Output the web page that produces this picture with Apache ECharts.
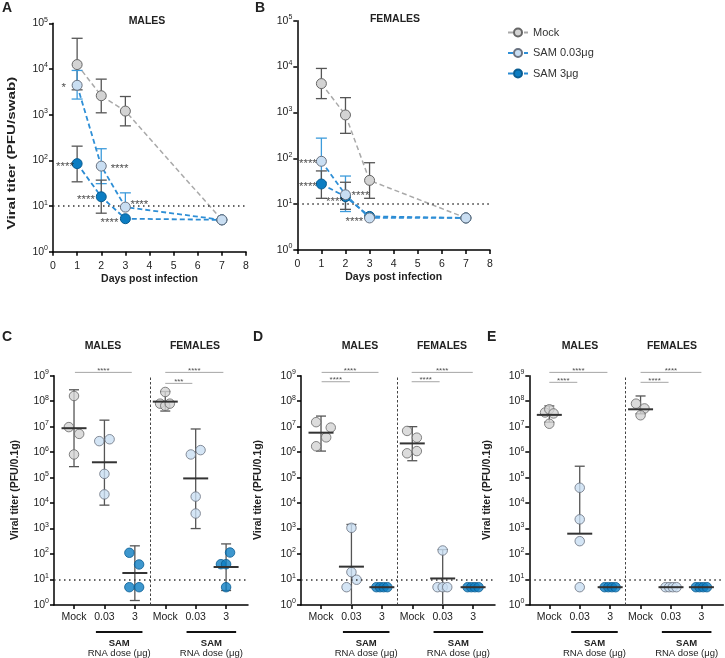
<!DOCTYPE html>
<html><head><meta charset="utf-8">
<script src="https://cdn.jsdelivr.net/npm/echarts@6/dist/echarts.min.js"></script>
<style>html,body{margin:0;padding:0;background:#fff}#c{width:725px;height:658px}</style>
</head><body><div id="c"></div>
<script>
// ================= DATA =================
// Panels A/B: oral swab titers (PFU/swab) by day post infection
const daysPI = [1, 2, 3, 7];
const seriesNames = ['Mock', 'SAM 0.03\u03bcg', 'SAM 3\u03bcg'];

const A_mock = [12500, 2600, 1200, 5];
const A_mockHi = [47000, 6000, 2500, null];
const A_mockLo = [3500, 1100, 570, null];
const A_low = [4400, 75, 9.5, 5];
const A_lowHi = [9300, 180, 19.5, null];
const A_lowLo = [2200, 31, null, null];
const A_high = [85, 16, 5.3, 5];
const A_highHi = [205, 37, null, null];
const A_highLo = [34, 7, null, null];

const B_mock = [4250, 880, 33, 5];
const B_mockHi = [9100, 2100, 80, null];
const B_mockLo = [2000, 350, 13.4, null];
const B_low = [86, 16, 5, 5];
const B_lowHi = [275, 41, null, null];
const B_lowLo = [30, 6.9, null, null];
const B_high = [27.5, 14.5, 5.4, 5];
const B_highHi = [53, 30, null, null];
const B_highLo = [13.4, 7.7, null, null];

// significance text annotations for A/B: [day, titer, text]
const A_stars = [[0.44, 4400, '*'], [0.5, 85, '****'], [2.76, 75, '****'], [1.37, 16, '****'], [3.58, 12.3, '****'], [2.34, 5, '****']];
const B_stars = [[0.44, 86, '****'], [0.44, 27.5, '****'], [1.56, 13, '****'], [2.62, 17.6, '****'], [2.37, 4.8, '****']];

// Panels C/D/E: tissue titers (PFU/0.1g); groups: M Mock, M 0.03, M 3, F Mock, F 0.03, F 3
const groupLabels = ['Mock', '0.03', '3', 'Mock', '0.03', '3'];

const C_M_mock = [1.6e8, 9.6e6, 5.2e6, 8.1e5];
const C_M_low = [2.7e6, 3.2e6, 1.4e5, 2.2e4];
const C_M_high = [112, 39, 5, 5];
const C_F_mock = [2.3e8, 8e7, 6.6e7, 8e7];
const C_F_low = [8.1e5, 1.2e6, 1.8e4, 3.9e3];
const C_F_high = [115, 40, 40, 5];
const C_mean = [8.7e6, 4e5, 18, 9.6e7, 9.3e4, 31];
const C_sdHi = [2.8e8, 1.8e7, 210, 2.4e8, 8.1e6, 250];
const C_sdLo = [2.7e5, 8.3e3, 1.5, 4.1e7, 1e3, 3.7];

const D_M_mock = [1.5e7, 9.2e6, 3.8e6, 1.7e6];
const D_M_low = [1070, 19.5, 9.8, 5];
const D_M_high = [5, 5, 5, 5];
const D_F_mock = [6.8e6, 3.7e6, 9e5, 1.1e6];
const D_F_low = [138, 5, 5, 5];
const D_F_high = [5, 5, 5, 5];
const D_mean = [5.8e6, 32, 5, 2.2e6, 11, 5];
const D_sdHi = [2.6e7, 1450, null, 1e7, 150, null];
const D_sdLo = [1.1e6, 0.3, null, 4.6e5, 0.3, null];

const E_M_mock = [3.6e7, 4.8e7, 3.3e7, 1.3e7];
const E_M_low = [4e4, 2.3e3, 320, 5];
const E_M_high = [5, 5, 5, 5];
const E_F_mock = [8e7, 5.2e7, 2.8e7];
const E_F_low = [5, 5, 5, 5];
const E_F_high = [5, 5, 5, 5];
const E_mean = [2.9e7, 630, 5, 4.8e7, 5, 5];
const E_sdHi = [6.5e7, 2.8e5, null, 1.6e8, null, null];
const E_sdLo = [1.5e7, null, null, 3.2e7, null, null];

// horizontal scatter offsets (category units) for overlapping dots
const C_jit = [[0, -0.17, 0.17, 0], [-0.17, 0.17, 0, 0], [-0.18, 0.14, -0.18, 0.14], [0, -0.17, 0, 0.15], [-0.16, 0.16, 0, 0], [0.13, -0.17, 0, 0]];
const D_jit = [[-0.16, 0.32, 0.17, -0.16], [0, 0, 0.17, -0.16], [-0.18, -0.06, 0.06, 0.18], [-0.17, 0.15, -0.17, 0.15], [0, -0.17, 0, 0.15], [-0.18, -0.06, 0.06, 0.18]];
const E_jit = [[-0.14, 0, 0.14, 0], [0, 0, 0, 0], [-0.18, -0.06, 0.06, 0.18], [-0.15, 0.13, 0], [-0.18, -0.06, 0.06, 0.18], [-0.18, -0.06, 0.06, 0.18]];

// significance bars: [from group, to group, titer level, text]
const C_sig = [[1.03, 2.9, 1.35e9, '****'], [4.0, 5.91, 1.35e9, '****'], [4.0, 4.89, 5e8, '***']];
const D_sig = [[1.02, 2.89, 1.35e9, '****'], [1.02, 1.95, 5.8e8, '****'], [3.98, 5.99, 1.35e9, '****'], [3.98, 4.9, 5.8e8, '****']];
const E_sig = [[1.0, 2.91, 1.35e9, '****'], [1.0, 1.92, 5.5e8, '****'], [4.0, 6.0, 1.35e9, '****'], [4.0, 4.92, 5.5e8, '****']];

const detectionLimit = 10;

// ================= STYLE =================
const FONT = '"Liberation Sans", Arial, Helvetica, sans-serif';
const FILL = ['#d3d3d3', '#c9def2', '#0c7dc2'];
const EDGE = ['#666666', '#6a7280', '#0a5d92'];
const LINEC = ['#a9a9a9', '#2f8fd6', '#2b8bd3'];
const BARC_AB = ['#555555', '#3d9bdb', '#555555'];
const TXT = '#222';

const chart = echarts.init(document.getElementById('c'), null, {renderer: 'canvas'});

const grids = [
  {left: 53, top: 23.3, width: 193, height: 228.5},
  {left: 297.3, top: 20.7, width: 192.7, height: 229.3},
  {left: 54, top: 375.7, width: 194, height: 229.3},
  {left: 301, top: 375.7, width: 194, height: 229.3},
  {left: 529.3, top: 375.7, width: 194, height: 229.3}
];

const axisLineStyle = {lineStyle: {color: '#000', width: 1.5}};
const tickStyle = {show: true, inside: false, length: 4, lineStyle: {color: '#000', width: 1.5}};

function yAxisLog(gi, maxV, split) {
  return {
    gridIndex: gi, type: 'log', logBase: 10, min: 1, max: maxV, splitNumber: split,
    axisLine: Object.assign({show: true}, axisLineStyle), axisTick: tickStyle,
    splitLine: {show: false}, minorTick: {show: false},
    axisLabel: {
      margin: 5, color: TXT, fontFamily: FONT, fontSize: 10.5,
      formatter: v => '{b|10}{s|' + Math.round(Math.log10(v)) + '}',
      rich: {b: {fontSize: 10.5, fontFamily: FONT, color: TXT}, s: {fontSize: 7, fontFamily: FONT, color: TXT, padding: [0, 0, 7, 0]}}
    }
  };
}
function xAxisDays(gi) {
  return {
    gridIndex: gi, type: 'value', min: 0, max: 8, interval: 1,
    axisLine: Object.assign({show: true, onZero: false}, axisLineStyle), axisTick: tickStyle, splitLine: {show: false},
    axisLabel: {color: TXT, fontFamily: FONT, fontSize: 10.5, margin: 9},
    name: 'Days post infection', nameLocation: 'middle', nameGap: 22,
    nameTextStyle: {fontFamily: FONT, fontSize: 10.5, fontWeight: 'bold', color: TXT}
  };
}
function xAxisGroups(gi) {
  const cv = [1, 2, 3, 4, 5, 6];
  return {
    gridIndex: gi, type: 'value', min: 0.342, max: 6.72,
    axisLine: Object.assign({show: true, onZero: false}, axisLineStyle),
    axisTick: Object.assign({customValues: cv}, tickStyle), splitLine: {show: false},
    axisLabel: {customValues: cv, formatter: v => groupLabels[Math.round(v) - 1], color: TXT, fontFamily: FONT, fontSize: 10.5, margin: 7}
  };
}

const series = [];

function errorBarSeries(gi, xs, mids, his, los, colors, capW, lw, z) {
  const idx = xs.map((x, i) => i).filter(i => his[i] != null);
  return {
    type: 'custom', xAxisIndex: gi, yAxisIndex: gi, z: z, silent: true, animation: false,
    data: idx.map(i => [xs[i], mids[i]]),
    renderItem(params, api) {
      const i = idx[params.dataIndex];
      const cs = params.coordSys, bottom = cs.y + cs.height;
      const x = xs[i];
      const pHi = api.coord([x, his[i]]);
      const hasLo = los[i] != null;
      const pLo = api.coord([x, hasLo ? los[i] : mids[i]]);
      let cap = hasLo;
      if (!(pLo[1] <= bottom)) { pLo[1] = bottom; cap = false; }
      const col = Array.isArray(colors) ? colors[i] : colors;
      const st = {stroke: col, lineWidth: lw};
      const ch = [
        {type: 'line', shape: {x1: pHi[0], y1: pHi[1], x2: pLo[0], y2: pLo[1]}, style: st},
        {type: 'line', shape: {x1: pHi[0] - capW / 2, y1: pHi[1], x2: pHi[0] + capW / 2, y2: pHi[1]}, style: st}
      ];
      if (cap) ch.push({type: 'line', shape: {x1: pLo[0] - capW / 2, y1: pLo[1], x2: pLo[0] + capW / 2, y2: pLo[1]}, style: st});
      return {type: 'group', children: ch};
    }
  };
}

function meanSeries(gi, means) {
  return {
    type: 'custom', xAxisIndex: gi, yAxisIndex: gi, z: 6, silent: true, animation: false,
    data: means.map((m, i) => [i + 1, m]),
    renderItem(params, api) {
      const p = api.coord([api.value(0), api.value(1)]);
      return {type: 'line', shape: {x1: p[0] - 12.5, y1: p[1], x2: p[0] + 12.5, y2: p[1]}, style: {stroke: '#333', lineWidth: 2}};
    }
  };
}

function starSeries(gi, stars, fontSize, pos, offset) {
  return {
    type: 'scatter', xAxisIndex: gi, yAxisIndex: gi, z: 7, silent: true, animation: false, clip: false,
    symbolSize: 1, itemStyle: {color: 'rgba(0,0,0,0)'},
    data: stars.map(s => ({value: [s[0], s[1]], label: {formatter: s[2]}})),
    label: {show: true, position: pos, distance: 0, offset: offset, color: TXT, fontFamily: FONT, fontSize: fontSize}
  };
}

// ---- Panels A & B ----
function timePanel(gi, vals, his, los, stars) {
  for (let k = 0; k < 3; k++) {
    series.push(errorBarSeries(gi, daysPI, vals[k], his[k], los[k], BARC_AB[k], 11, 1.3, 2));
  }
  const order = [0, 2, 1];
  order.forEach(k => {
    const s = {
      type: 'line', name: seriesNames[k], xAxisIndex: gi, yAxisIndex: gi, z: 4 + (k === 1 ? 1 : 0), animation: false,
      data: daysPI.map((d, i) => [d, vals[k][i]]),
      symbol: 'circle', symbolSize: 10, showAllSymbol: true,
      itemStyle: {color: FILL[k], borderColor: EDGE[k], borderWidth: 1},
      lineStyle: {color: LINEC[k], width: k === 0 ? 1.5 : 1.8, type: [5, 3]},
      emphasis: {disabled: true}
    };
    if (k === 0) {
      s.markLine = {silent: true, symbol: ['none', 'none'], label: {show: false}, animation: false,
        lineStyle: {color: '#333', width: 1.5, type: [1.5, 3.5]}, data: [{yAxis: detectionLimit}]};
    }
    series.push(s);
  });
  series.push(starSeries(gi, stars, 11.5, 'inside', [0, 3]));
}
timePanel(0, [A_mock, A_low, A_high], [A_mockHi, A_lowHi, A_highHi], [A_mockLo, A_lowLo, A_highLo], A_stars);
timePanel(1, [B_mock, B_low, B_high], [B_mockHi, B_lowHi, B_highHi], [B_mockLo, B_lowLo, B_highLo], B_stars);

// ---- Panels C, D, E ----
function groupPanel(gi, groups, jit, means, his, los, sig) {
  series.push(errorBarSeries(gi, [1, 2, 3, 4, 5, 6], means, his, los, '#555', 10, 1.3, 2));
  groups.forEach((vals, g) => {
    const k = g % 3;
    const s = {
      type: 'scatter', xAxisIndex: gi, yAxisIndex: gi, z: 4, animation: false, silent: true,
      symbol: 'circle', symbolSize: 9.5,
      itemStyle: {color: FILL[k], borderColor: EDGE[k], borderWidth: 1},
      data: vals.map((v, j) => [g + 1 + jit[g][j], v])
    };
    if (g === 0) {
      s.markLine = {silent: true, symbol: ['none', 'none'], label: {show: false}, animation: false,
        data: [
          {yAxis: detectionLimit, lineStyle: {color: '#333', width: 1.5, type: [1.5, 3.5]}},
          {xAxis: 3.5, lineStyle: {color: '#444', width: 1, type: [2.5, 2]}}
        ]};
    }
    series.push(s);
  });
  series.push(meanSeries(gi, means));
  sig.forEach(b => {
    series.push({
      type: 'line', xAxisIndex: gi, yAxisIndex: gi, z: 5, clip: false, silent: true, animation: false,
      symbol: 'none', lineStyle: {color: '#a6a6a6', width: 1}, data: [[b[0], b[2]], [b[1], b[2]]]
    });
  });
  series.push(starSeries(gi, sig.map(b => [(b[0] + b[1]) / 2, b[2], b[3]]), 8, 'top', [0, 3]));
}
groupPanel(2, [C_M_mock, C_M_low, C_M_high, C_F_mock, C_F_low, C_F_high], C_jit, C_mean, C_sdHi, C_sdLo, C_sig);
groupPanel(3, [D_M_mock, D_M_low, D_M_high, D_F_mock, D_F_low, D_F_high], D_jit, D_mean, D_sdHi, D_sdLo, D_sig);
groupPanel(4, [E_M_mock, E_M_low, E_M_high, E_F_mock, E_F_low, E_F_high], E_jit, E_mean, E_sdHi, E_sdLo, E_sig);

// ---- static texts ----
function txt(x, y, s, size, bold, align, extra) {
  return Object.assign({type: 'text', x: x, y: y, silent: true, z: 20,
    style: {text: s, fill: TXT, font: (bold ? 'bold ' : '') + size + 'px ' + FONT, textAlign: align || 'center', textVerticalAlign: 'middle'}}, extra || {});
}
const graphics = [
  txt(2, 8, 'A', 14, true, 'left'), txt(255, 8, 'B', 14, true, 'left'),
  txt(2, 337, 'C', 14, true, 'left'), txt(253, 337, 'D', 14, true, 'left'), txt(487, 337, 'E', 14, true, 'left'),
  txt(147, 21, 'MALES', 10.5, true), txt(395, 19, 'FEMALES', 10.5, true),
  txt(103, 346, 'MALES', 10.5, true), txt(195, 346, 'FEMALES', 10.5, true),
  txt(360, 346, 'MALES', 10.5, true), txt(442, 346, 'FEMALES', 10.5, true),
  txt(580, 346, 'MALES', 10.5, true), txt(672, 346, 'FEMALES', 10.5, true),
  txt(12, 153, 'Viral titer (PFU/swab)', 10.5, true, 'center', {rotation: Math.PI / 2, scaleX: 1.45}),
  txt(15, 490, 'Viral titer (PFU/0.1g)', 10.5, true, 'center', {rotation: Math.PI / 2}),
  txt(258, 490, 'Viral titer (PFU/0.1g)', 10.5, true, 'center', {rotation: Math.PI / 2}),
  txt(487, 490, 'Viral titer (PFU/0.1g)', 10.5, true, 'center', {rotation: Math.PI / 2})
];

chart.setOption({
  animation: false,
  backgroundColor: '#fff',
  grid: grids,
  xAxis: [xAxisDays(0), xAxisDays(1), xAxisGroups(2), xAxisGroups(3), xAxisGroups(4)],
  yAxis: [yAxisLog(0, 1e5, 5), yAxisLog(1, 1e5, 5), yAxisLog(2, 1e9, 9), yAxisLog(3, 1e9, 9), yAxisLog(4, 1e9, 9)],
  legend: {
    data: seriesNames, orient: 'vertical', left: 502, top: 22, itemWidth: 20, itemHeight: 10, itemGap: 9.5,
    textStyle: {fontFamily: FONT, fontSize: 11, color: '#333'}, selectedMode: false
  },
  series: series,
  graphic: graphics
});

// SAM dose brackets under C/D/E, positioned through the axes
const samBrackets = [[1.72, 3.25], [4.7, 6.33]];
const extra = [];
[2, 3, 4].forEach(gi => {
  samBrackets.forEach(br => {
    const p1 = chart.convertToPixel({gridIndex: gi}, [br[0], 1]);
    const p2 = chart.convertToPixel({gridIndex: gi}, [br[1], 1]);
    const y0 = p1[1] + 27;
    extra.push({type: 'line', silent: true, z: 20, shape: {x1: p1[0], y1: y0, x2: p2[0], y2: y0}, style: {stroke: '#111', lineWidth: 2}});
    const cx = (p1[0] + p2[0]) / 2;
    extra.push(txt(cx, y0 + 11, 'SAM', 9.5, true));
    extra.push(txt(cx, y0 + 21, 'RNA dose (\u03bcg)', 9.5, false));
  });
});
chart.setOption({graphic: graphics.concat(extra)});
</script>
</body></html>
